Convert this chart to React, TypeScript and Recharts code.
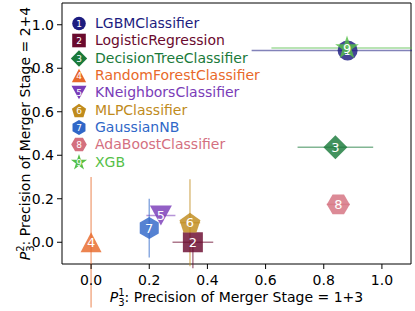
import React from "react";
import {
  ScatterChart,
  Scatter,
  XAxis,
  YAxis,
  ErrorBar,
  ReferenceArea,
  Legend,
  Label,
} from "recharts";

const classifiers = [
  "LGBMClassifier",
  "LogisticRegression",
  "DecisionTreeClassifier",
  "RandomForestClassifier",
  "KNeighborsClassifier",
  "MLPClassifier",
  "GaussianNB",
  "AdaBoostClassifier",
  "XGB",
];
const colors = [
  "#1c1c80",
  "#6a0a2e",
  "#1a7a3a",
  "#e8692a",
  "#7a3cb8",
  "#c08b1c",
  "#2f67c8",
  "#d4707f",
  "#55c048",
];
const markers = [
  "circle",
  "square",
  "diamond",
  "triangleUp",
  "triangleDown",
  "pentagon",
  "hexagon",
  "hexagonFlat",
  "star",
];
// P_3^1 (stage 1+3) and P_3^2 (stage 2+4)
const precision13 = [0.882, 0.35, 0.84, 0.0, 0.24, 0.34, 0.2, 0.85, 0.88];
const precision24 = [0.882, 0.0, 0.437, 0.0, 0.123, 0.09, 0.065, 0.174, 0.893];
const err13 = [0.33, 0.07, 0.13, 0.0, 0.05, 0.035, 0.0, 0.04, 0.26];
const err24: (number | number[])[] = [0.0, [0.12, 0], 0.02, 0.3, 0.0, 0.2, 0.135, 0.0, 0.0];
const ticks = [0, 0.2, 0.4, 0.6, 0.8, 1.0];

const FONT = "DejaVu Sans";

function poly(cx: number, cy: number, r: number, n: number, start: number) {
  const pts: string[] = [];
  for (let i = 0; i < n; i++) {
    const a = ((start + (360 / n) * i) * Math.PI) / 180;
    pts.push(`${cx + r * Math.cos(a)},${cy + r * Math.sin(a)}`);
  }
  return pts.join(" ");
}

function starPts(cx: number, cy: number, r: number) {
  const pts: string[] = [];
  for (let i = 0; i < 10; i++) {
    const rr = i % 2 === 0 ? r : r * 0.382;
    const a = ((-90 + 36 * i) * Math.PI) / 180;
    pts.push(`${cx + rr * Math.cos(a)},${cy + rr * Math.sin(a)}`);
  }
  return pts.join(" ");
}

const Marker = ({ kind, cx, cy, k, color, opacity, label, fontSize }: any) => {
  let shape: React.ReactNode = null;
  const common = { fill: color, fillOpacity: opacity, stroke: "none" };
  if (kind === "circle") shape = <circle cx={cx} cy={cy} r={10 * k} {...common} />;
  else if (kind === "square")
    shape = <rect x={cx - 10 * k} y={cy - 10 * k} width={20 * k} height={20 * k} {...common} />;
  else if (kind === "diamond") shape = <polygon points={poly(cx, cy, 12 * k, 4, -90)} {...common} />;
  else if (kind === "triangleUp")
    shape = (
      <polygon
        points={`${cx},${cy - 10 * k} ${cx - 10.5 * k},${cy + 10 * k} ${cx + 10.5 * k},${cy + 10 * k}`}
        {...common}
      />
    );
  else if (kind === "triangleDown")
    shape = (
      <polygon
        points={`${cx},${cy + 10 * k} ${cx - 11 * k},${cy - 10 * k} ${cx + 11 * k},${cy - 10 * k}`}
        {...common}
      />
    );
  else if (kind === "pentagon") shape = <polygon points={poly(cx, cy + 1 * k, 11 * k, 5, -90)} {...common} />;
  else if (kind === "hexagon") shape = <polygon points={poly(cx, cy, 11 * k, 6, -90)} {...common} />;
  else if (kind === "hexagonFlat") shape = <polygon points={poly(cx, cy, 11.5 * k, 6, -60)} {...common} />;
  else shape = <polygon points={starPts(cx, cy, 12.5 * k)} {...common} />;
  return (
    <g>
      {shape}
      <text
        x={cx}
        y={cy}
        dy="0.36em"
        textAnchor="middle"
        fill="#fff"
        fontSize={fontSize}
        fontFamily={FONT}
      >
        {label}
      </text>
    </g>
  );
};

const seriesData = classifiers.map((_, i) => [
  { x: precision13[i], y: precision24[i], ex: err13[i], ey: err24[i] },
]);

const LegendBox = () => (
  <div style={{ fontFamily: FONT, fontSize: 14 }}>
    {classifiers.map((name, i) => (
      <div key={name} style={{ display: "flex", alignItems: "center", height: 17.33 }}>
        <svg width={18} height={17} style={{ flex: "none" }}>
          <Marker kind={markers[i]} cx={9} cy={8.5} k={0.68} color={colors[i]} opacity={1} label={i + 1} fontSize={9} />
        </svg>
        <span style={{ marginLeft: 7, color: colors[i], whiteSpace: "nowrap", lineHeight: "17px" }}>{name}</span>
      </div>
    ))}
  </div>
);

const XTitle = ({ viewBox }: any) => {
  const cx = viewBox.x + viewBox.width / 2;
  return (
    <text x={cx} y={viewBox.y + 38} textAnchor="middle" fontSize={14} fontFamily={FONT} fill="#000">
      <tspan fontStyle="italic">P</tspan>
      <tspan fontSize={10} dy={-6}>1</tspan>
      <tspan fontSize={10} dx={-6.4} dy={10}>3</tspan>
      <tspan dy={-4}>: Precision of Merger Stage = 1+3</tspan>
    </text>
  );
};

const YTitle = ({ viewBox }: any) => {
  const cy = viewBox.y + viewBox.height / 2;
  const x = 30;
  return (
    <text
      x={x}
      y={cy}
      transform={`rotate(-90, ${x}, ${cy})`}
      textAnchor="middle"
      fontSize={14}
      fontFamily={FONT}
      fill="#000"
    >
      <tspan fontStyle="italic">P</tspan>
      <tspan fontSize={10} dy={-6}>2</tspan>
      <tspan fontSize={10} dx={-6.4} dy={10}>3</tspan>
      <tspan dy={-4}>: Precision of Merger Stage = 2+4</tspan>
    </text>
  );
};

export default function App() {
  return (
    <div
      style={{
        position: "absolute",
        left: 0,
        top: 0,
        width: 412,
        height: 311,
        overflow: "hidden",
        background: "#fff",
      }}
    >
      <ScatterChart
        width={415}
        height={311}
        margin={{ top: 3, right: 4, bottom: 0, left: 0 }}
        style={{ fontFamily: FONT }}
      >
        <XAxis
          type="number"
          dataKey="x"
          domain={[-0.1, 1.1]}
          ticks={ticks}
          allowDataOverflow
          height={47}
          axisLine={false}
          tickLine={{ stroke: "#000" }}
          tickSize={5}
          tickMargin={6}
          tickFormatter={(v: number) => v.toFixed(1)}
          tick={{ fontSize: 14, fill: "#000", fontFamily: FONT }}
        >
          <Label content={<XTitle />} />
        </XAxis>
        <YAxis
          type="number"
          dataKey="y"
          domain={[-0.1, 1.1]}
          ticks={ticks}
          allowDataOverflow
          width={62}
          axisLine={false}
          tickLine={{ stroke: "#000" }}
          tickSize={5}
          tickMargin={3}
          tickFormatter={(v: number) => v.toFixed(1)}
          tick={{ fontSize: 14, fill: "#000", fontFamily: FONT }}
        >
          <Label content={<YTitle />} />
        </YAxis>
        {classifiers.map((name, i) => (
          <Scatter
            key={name}
            name={name}
            data={seriesData[i]}
            fill={colors[i]}
            isAnimationActive={false}
            shape={(p: any) => (
              <Marker
                kind={markers[i]}
                cx={p.cx}
                cy={p.cy}
                k={1}
                color={colors[i]}
                opacity={0.82}
                label={i + 1}
                fontSize={13}
              />
            )}
          >
            <ErrorBar dataKey="ex" direction="x" width={0} stroke={colors[i]} strokeOpacity={0.55} strokeWidth={1.5} />
            <ErrorBar dataKey="ey" direction="y" width={0} stroke={colors[i]} strokeOpacity={0.55} strokeWidth={1.5} />
          </Scatter>
        ))}
        <ReferenceArea x1={-0.1} x2={1.1} y1={-0.1} y2={1.1} fill="none" stroke="#000" strokeWidth={1} ifOverflow="visible" />
        <Legend
          layout="vertical"
          align="center"
          verticalAlign="middle"
          content={<LegendBox />}
          wrapperStyle={{ top: 15, left: 70, width: 200, height: 160 }}
        />
      </ScatterChart>
    </div>
  );
}
